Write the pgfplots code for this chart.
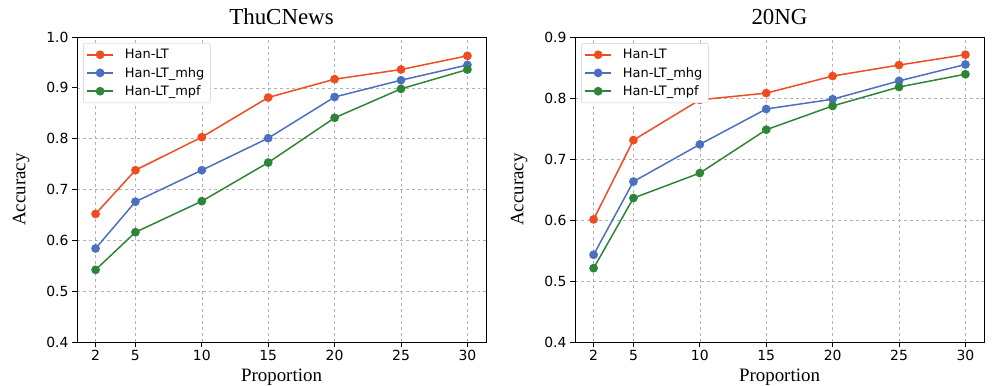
\documentclass[border=0pt]{standalone}
\usepackage{fontspec}
\setmainfont{Liberation Serif}
\newfontfamily\dejavu{DejaVu Sans}
\usepackage{pgfplots}
\pgfplotsset{compat=1.18}
\definecolor{cor}{RGB}{238,77,34}
\definecolor{cbl}{RGB}{76,112,192}
\definecolor{cgr}{RGB}{47,133,55}
\pgfplotsset{
 myax/.style={
  scale only axis, width=409bp, height=305bp,
  xmin=0.6, xmax=31.4, ymin=0.4,
  xtick={2,5,10,15,20,25,30},
  grid=major, major grid style={dashed, black!30, line width=0.6bp},
  tick style={black, line width=0.8bp}, tick align=outside, major tick length=5bp,
  axis line style={line width=0.9bp},
  xtick pos=bottom, ytick pos=left,
  tick label style={font=\dejavu\fontsize{14}{14}\selectfont},
  /pgf/number format/assume math mode=true,
  yticklabel style={/pgf/number format/.cd, fixed, fixed zerofill, precision=1},
  xlabel={Proportion}, ylabel={Accuracy},
  label style={font=\fontsize{19}{19}\selectfont},
  xlabel style={yshift=-1bp},
  ylabel style={yshift=10bp},
  title style={font=\fontsize{23}{23}\selectfont, yshift=3bp},
  legend style={at={(0.015,0.98)}, anchor=north west, font=\dejavu\fontsize{13}{13}\selectfont, draw=black!20, rounded corners=2bp, row sep=1bp, inner sep=3bp, nodes={inner sep=3bp}},
  legend cell align=left,
  legend image code/.code={\draw[mark repeat=2,mark phase=2] plot coordinates {(0cm,0cm) (0.46cm,0cm) (0.92cm,0cm)};},
  every axis plot/.append style={line width=1.5bp, mark=*, mark size=3.6bp},
 }
}
\begin{document}
\begin{tikzpicture}[x=1bp,y=1bp]
\useasboundingbox (0,0) rectangle (995,385);
\begin{axis}[myax, at={(77bp,43bp)}, anchor=south west, ymax=1.0, title={ThuCNews},
  ytick={0.4,0.5,0.6,0.7,0.8,0.9,1.0}]
\addplot[color=cor] coordinates {(2,0.652) (5,0.738) (10,0.803) (15,0.881) (20,0.917) (25,0.936) (30,0.963)};
\addlegendentry{\hspace{8bp}Han-LT}
\addplot[color=cbl] coordinates {(2,0.584) (5,0.676) (10,0.738) (15,0.801) (20,0.882) (25,0.915) (30,0.945)};
\addlegendentry{\hspace{8bp}Han-LT\_mhg}
\addplot[color=cgr] coordinates {(2,0.542) (5,0.616) (10,0.677) (15,0.753) (20,0.841) (25,0.898) (30,0.936)};
\addlegendentry{\hspace{8bp}Han-LT\_mpf}
\end{axis}
\begin{axis}[myax, at={(575bp,43bp)}, anchor=south west, ymax=0.9, title={20NG},
  ytick={0.4,0.5,0.6,0.7,0.8,0.9}]
\addplot[color=cor] coordinates {(2,0.601) (5,0.731) (10,0.797) (15,0.808) (20,0.836) (25,0.854) (30,0.871)};
\addlegendentry{\hspace{8bp}Han-LT}
\addplot[color=cbl] coordinates {(2,0.543) (5,0.663) (10,0.724) (15,0.782) (20,0.798) (25,0.828) (30,0.855)};
\addlegendentry{\hspace{8bp}Han-LT\_mhg}
\addplot[color=cgr] coordinates {(2,0.521) (5,0.636) (10,0.677) (15,0.748) (20,0.787) (25,0.818) (30,0.839)};
\addlegendentry{\hspace{8bp}Han-LT\_mpf}
\end{axis}
\end{tikzpicture}
\end{document}
